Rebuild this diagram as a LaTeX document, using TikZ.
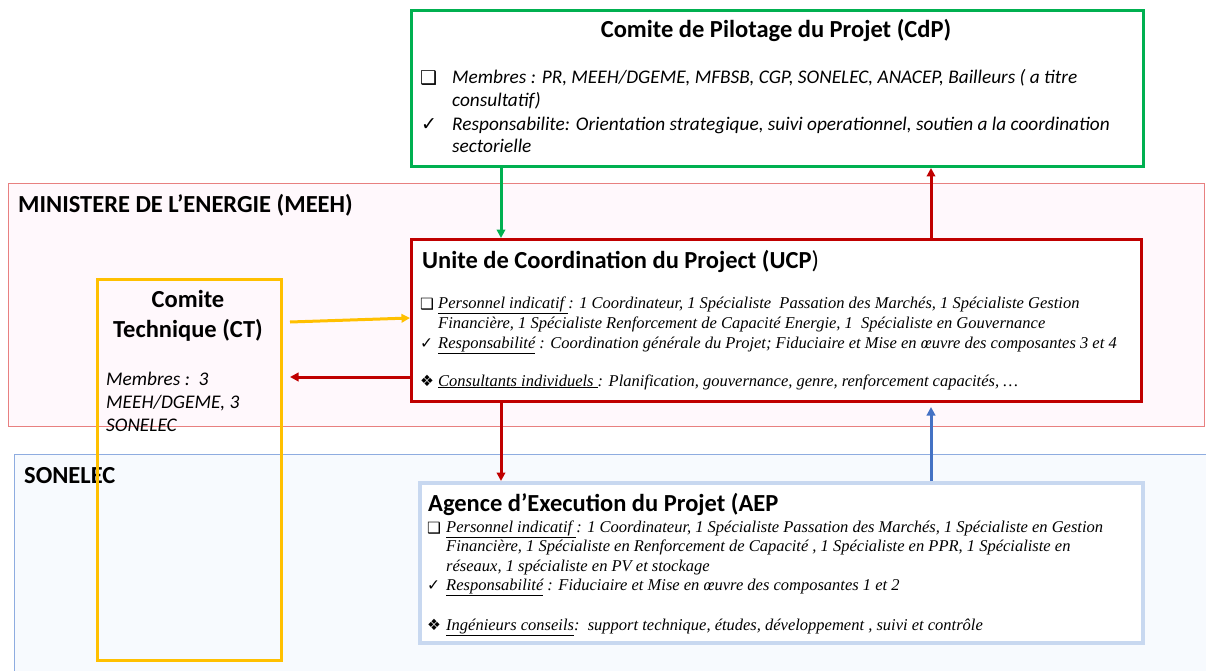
\documentclass[tikz,border=0pt]{standalone}
\usepackage{fontspec}
\setmainfont{Carlito}
\newfontfamily\serifit{Liberation Serif}
\newfontfamily\sym{DejaVu Sans}
\usetikzlibrary{arrows.meta}
\definecolor{cdpgreen}{HTML}{00B050}
\definecolor{ucpred}{HTML}{C00000}
\definecolor{ctorange}{HTML}{FFC000}
\definecolor{aepblue}{HTML}{4472C4}
\definecolor{meehline}{HTML}{E88080}
\definecolor{meehfill}{HTML}{FFF8FC}
\definecolor{sonline}{HTML}{8EACE0}
\definecolor{sonfill}{HTML}{F7FAFE}
\definecolor{aepline}{HTML}{C8D8F0}
\tikzset{
  region/.style={line width=1pt, anchor=north west, inner sep=0pt},
  boxnode/.style={line width=3pt, anchor=north west, inner sep=0pt},
  txt/.style={anchor=base west, inner sep=0pt},
  ctxt/.style={anchor=base, inner sep=0pt},
  ttl/.style={font=\fontsize{24.5}{29}\selectfont\bfseries},
  lbl/.style={font=\fontsize{24.5}{29}\selectfont\bfseries},
  cdpbody/.style={font=\fontsize{19.3}{23}\selectfont\itshape},
  serbody/.style={font=\fontsize{16.5}{20}\selectfont\serifit\itshape},
  symb/.style={font=\fontsize{19}{22}\selectfont\sym},
  ssymb/.style={font=\fontsize{15.5}{18}\selectfont\sym},
  arr/.style={line width=3pt, -{Triangle[length=8.5pt,width=8.5pt]}}
}
\begin{document}
\begin{tikzpicture}[x=1pt,y=-1pt]
\useasboundingbox[fill=white] (0,0) rectangle (1206,671);
% regions
\node (meeh) [region, draw=meehline, fill=meehfill, minimum width=1196pt, minimum height=243pt] at (8,183) {};
\node (son) [region, draw=sonline, fill=sonfill, minimum width=1210pt, minimum height=240pt] at (14,454) {};
\node (meehlbl) [txt, lbl] at (18,212) {MINISTERE DE L’ENERGIE (MEEH)};
\node (sonlbl) [txt, lbl] at (24,483) {SONELEC};
% boxes
\node (cdp) [boxnode, draw=cdpgreen, fill=white, minimum width=732pt, minimum height=156pt] at (410,9) {};
\node (ucp) [boxnode, draw=ucpred, fill=white, minimum width=730pt, minimum height=162pt] at (410,238) {};
\node (aep) [boxnode, draw=aepline, line width=3.5pt, fill=white, minimum width=723pt, minimum height=160pt] at (418,481) {};
\node (ct) [boxnode, draw=ctorange, minimum width=184pt, minimum height=381pt] at (96,278) {};
% CdP text
\node (cdpt) [ctxt, ttl] at (776,38) {Comite de Pilotage du Projet (CdP)};
\node (cdps1) [txt, symb] at (420,85) {❑};
\node (cdpl1) [txt, cdpbody] at (452,84) {Membres : PR, MEEH/DGEME, MFBSB, CGP, SONELEC, ANACEP, Bailleurs ( a titre};
\node (cdpl2) [txt, cdpbody] at (452,107) {consultatif)};
\node (cdps2) [txt, symb] at (421,131) {✓};
\node (cdpl3) [txt, cdpbody] at (452,131) {Responsabilite: Orientation strategique, suivi operationnel, soutien a la coordination};
\node (cdpl4) [txt, cdpbody] at (452,153) {sectorielle};
% UCP text
\node (ucpt) [txt, ttl] at (422,268) {Unite de Coordination du Project (UCP\textmd{)}};
\node (ucps1) [txt, ssymb] at (420,309) {❑};
\node (ucpl1) [txt, serbody] at (438,308) {\underline{Personnel indicatif }: 1 Coordinateur, 1 Spécialiste\ \ Passation des Marchés, 1 Spécialiste Gestion};
\node (ucpl2) [txt, serbody] at (438,328) {Financière, 1 Spécialiste Renforcement de Capacité Energie, 1\ \ Spécialiste en Gouvernance};
\node (ucps2) [txt, ssymb] at (420,348) {✓};
\node (ucpl3) [txt, serbody] at (438,348) {\underline{Responsabilité} : Coordination générale du Projet; Fiduciaire et Mise en œuvre des composantes 3 et 4};
\node (ucps3) [txt, ssymb] at (420,386) {❖};
\node (ucpl4) [txt, serbody] at (438,386) {\underline{Consultants individuels }: Planification, gouvernance, genre, renforcement capacités, …};
% AEP text
\node (aept) [txt, ttl] at (428,511) {Agence d’Execution du Projet (AEP};
\node (aeps1) [txt, ssymb] at (427,533) {❑};
\node (aepl1) [txt, serbody] at (446,532) {\underline{Personnel indicatif }: 1 Coordinateur, 1 Spécialiste Passation des Marchés, 1 Spécialiste en Gestion};
\node (aepl2) [txt, serbody] at (446,551) {Financière, 1 Spécialiste en Renforcement de Capacité , 1 Spécialiste en PPR, 1 Spécialiste en};
\node (aepl3) [txt, serbody] at (446,571) {réseaux, 1 spécialiste en PV et stockage};
\node (aeps2) [txt, ssymb] at (427,590) {✓};
\node (aepl4) [txt, serbody] at (446,590) {\underline{Responsabilité} : Fiduciaire et Mise en œuvre des composantes 1 et 2};
\node (aeps3) [txt, ssymb] at (427,630) {❖};
\node (aepl5) [txt, serbody] at (446,630) {\underline{Ingénieurs conseils}:\ \ support technique, études, développement , suivi et contrôle};
% CT text
\node (ctt1) [ctxt, ttl] at (188,307) {Comite};
\node (ctt2) [ctxt, ttl] at (188,337) {Technique (CT)};
\node (ctl1) [txt, cdpbody] at (106,385) {Membres :\ \ 3};
\node (ctl2) [txt, cdpbody] at (106,408) {MEEH/DGEME, 3};
\node (ctl3) [txt, cdpbody] at (106,431) {SONELEC};
% arrows
\draw[arr, cdpgreen] ([xshift=91pt]cdp.south west) -- ([xshift=91pt]ucp.north west);
\draw[arr, ucpred] ([xshift=521pt]ucp.north west) -- ([xshift=521pt]cdp.south west);
\draw[arr, ctorange] ([shift={(7,44)}]ct.north east) -- ([shift={(0,80)}]ucp.north west);
\draw[arr, ucpred] ([shift={(0,139)}]ucp.north west) -- ([shift={(7,99)}]ct.north east);
\draw[arr, ucpred] ([xshift=91pt]ucp.south west) -- ([xshift=83pt]aep.north west);
\draw[arr, aepblue] ([xshift=513pt]aep.north west) -- ([shift={(521,4)}]ucp.south west);
\end{tikzpicture}
\end{document}
